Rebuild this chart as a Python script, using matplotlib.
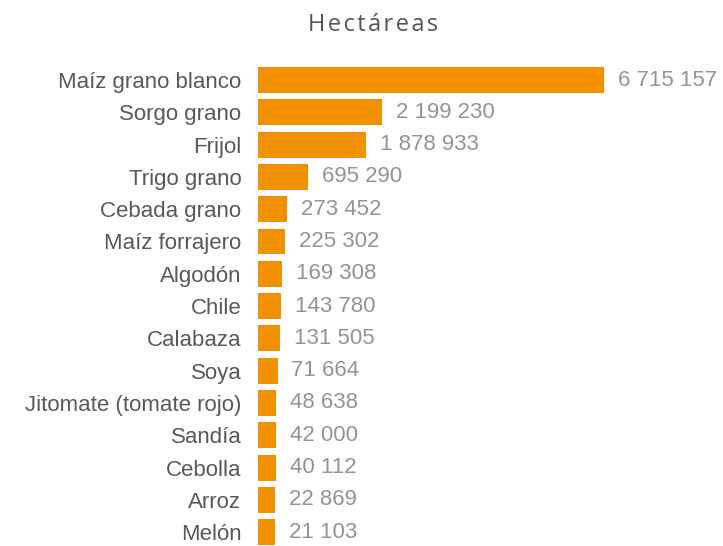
import matplotlib.pyplot as plt

cultivos = ["Maíz grano blanco", "Sorgo grano", "Frijol", "Trigo grano", "Cebada grano",
            "Maíz forrajero", "Algodón", "Chile", "Calabaza", "Soya",
            "Jitomate (tomate rojo)", "Sandía", "Cebolla", "Arroz", "Melón"]
hectareas = [6715157, 2199230, 1878933, 695290, 273452,
             225302, 169308, 143780, 131505, 71664,
             48638, 42000, 40112, 22869, 21103]
titulo = "Hectáreas"

plt.rcParams['font.family'] = ['Liberation Sans', 'DejaVu Sans']

fig = plt.figure(figsize=(7.23, 5.46), dpi=100)
W, H = 723, 546
# axes placed in pixels: bars start at x=258, longest ends at x=604
ax = fig.add_axes([258 / W, 0, (604 - 258) / W, (546 - 60) / H])

base = 325600  # bars start a bit left of zero, like the original
pos = list(range(len(cultivos)))
ax.barh(pos, [v + base for v in hectareas], left=-base, height=0.8,
        color='#F29100', edgecolor='none')

ax.set_xlim(-base, max(hectareas))
pitch = 32.3
ax.set_ylim((546 - 80) / pitch, -20 / pitch)

ax.set_yticks(pos)
ax.set_yticklabels(cultivos, fontsize=16, color='#595959')
ax.tick_params(axis='y', length=0, pad=12)
ax.set_xticks([])
for s in ax.spines.values():
    s.set_visible(False)

for y, v in zip(pos, hectareas):
    txt = f"{v:,}".replace(",", " ")
    ax.annotate(txt, (v, y), xytext=(10, 0), textcoords='offset points',
                va='center', ha='left', fontsize=16, color='#949494',
                annotation_clip=False)

fig.text(373 / W, 1 - 25 / H, "\u200a".join(titulo), ha='center', va='center',
         fontsize=17, color='#555555', family=['Open Sans', 'DejaVu Sans'])

fig.savefig("out.png", dpi=100)
